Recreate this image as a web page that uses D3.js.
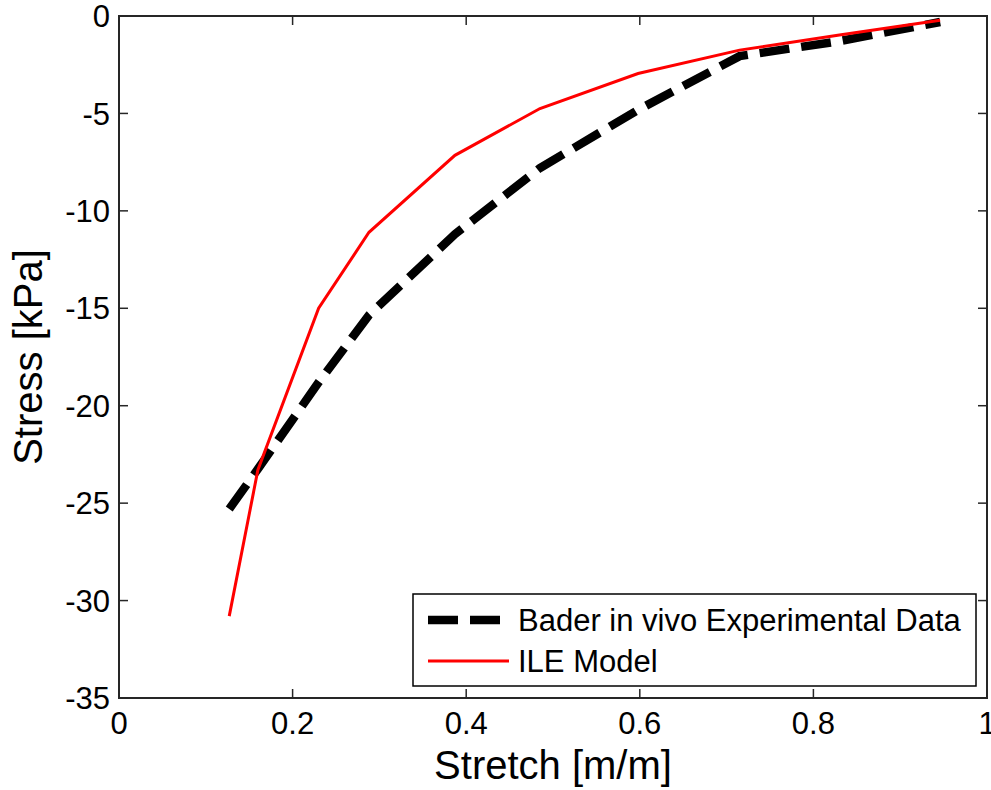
<!DOCTYPE html>
<html>
<head>
<meta charset="utf-8">
<script src="https://cdn.jsdelivr.net/npm/d3@7"></script>
<style>
  body { margin: 0; background: #fff; }
  text { font-family: "Liberation Sans", Arial, sans-serif; fill: #000; }
</style>
</head>
<body>
<svg id="chart"></svg>
<script>
// data
let stretch = [0.127, 0.16, 0.23, 0.288, 0.387, 0.485, 0.598, 0.715, 0.83, 0.946];
let bader = [-25.3, -23.25, -18.8, -15.35, -11.2, -7.8, -4.82, -2.06, -1.29, -0.31];
let ile = [-30.8, -23.3, -15.0, -11.1, -7.15, -4.75, -2.95, -1.75, -0.98, -0.22];
let xTicks = [0, 0.2, 0.4, 0.6, 0.8, 1];
let yTicks = [0, -5, -10, -15, -20, -25, -30, -35];
let seriesNames = ["Bader in vivo Experimental Data", "ILE Model"];

let width = 991,
  height = 790;
let margin = { top: 16, right: 4, bottom: 92, left: 119 };
let plotW = width - margin.left - margin.right,
  plotH = height - margin.top - margin.bottom;

let svg = d3.select("#chart").attr("width", width).attr("height", height);

let x = d3.scaleLinear().domain([0, 1]).range([margin.left, margin.left + plotW]);
let y = d3.scaleLinear().domain([-35, 0]).range([margin.top + plotH, margin.top]);

let tickLen = 9;
let axisColor = "#262626";

// lines
let line = d3
  .line()
  .x((d) => x(d[0]))
  .y((d) => y(d[1]));

let baderData = stretch.map((s, i) => [s, bader[i]]);
let ileData = stretch.map((s, i) => [s, ile[i]]);

svg
  .append("path")
  .datum(baderData)
  .attr("fill", "none")
  .attr("stroke", "#000")
  .attr("stroke-width", 8.5)
  .attr("stroke-dasharray", "30,12")
  .attr("d", line);

svg
  .append("path")
  .datum(ileData)
  .attr("fill", "none")
  .attr("stroke", "#ff0000")
  .attr("stroke-width", 3)
  .attr("d", line);

// frame + inward ticks on all four sides
let frame = svg.append("g");
frame
  .append("rect")
  .attr("x", x(0))
  .attr("y", y(0))
  .attr("width", x(1) - x(0))
  .attr("height", y(-35) - y(0))
  .attr("fill", "none")
  .attr("stroke", axisColor)
  .attr("stroke-width", 2);

xTicks.forEach((t) => {
  frame.append("line")
    .attr("x1", x(t)).attr("x2", x(t))
    .attr("y1", y(-35)).attr("y2", y(-35) - tickLen)
    .attr("stroke", axisColor).attr("stroke-width", 1.5);
  frame.append("line")
    .attr("x1", x(t)).attr("x2", x(t))
    .attr("y1", y(0)).attr("y2", y(0) + tickLen)
    .attr("stroke", axisColor).attr("stroke-width", 1.5);
  svg.append("text")
    .attr("x", x(t))
    .attr("y", y(-35) + 36)
    .attr("text-anchor", "middle")
    .attr("font-size", "31px")
    .text(t);
});

yTicks.forEach((t) => {
  frame.append("line")
    .attr("x1", x(0)).attr("x2", x(0) + tickLen)
    .attr("y1", y(t)).attr("y2", y(t))
    .attr("stroke", axisColor).attr("stroke-width", 1.5);
  frame.append("line")
    .attr("x1", x(1)).attr("x2", x(1) - tickLen)
    .attr("y1", y(t)).attr("y2", y(t))
    .attr("stroke", axisColor).attr("stroke-width", 1.5);
  svg.append("text")
    .attr("x", x(0) - 9)
    .attr("y", y(t))
    .attr("dy", "0.36em")
    .attr("text-anchor", "end")
    .attr("font-size", "31px")
    .text(t);
});

// axis titles
svg.append("text")
  .attr("x", (x(0) + x(1)) / 2)
  .attr("y", 779)
  .attr("text-anchor", "middle")
  .attr("font-size", "40px")
  .text("Stretch [m/m]");

svg.append("text")
  .attr("transform", "translate(42," + (y(0) + y(-35)) / 2 + ") rotate(-90)")
  .attr("text-anchor", "middle")
  .attr("font-size", "40px")
  .text("Stress [kPa]");

// legend
let legend = svg.append("g");
legend.append("rect")
  .attr("x", 413).attr("y", 594)
  .attr("width", 563).attr("height", 92)
  .attr("fill", "#fff")
  .attr("stroke", "#000")
  .attr("stroke-width", 1.5);

legend.append("line")
  .attr("x1", 428).attr("x2", 509)
  .attr("y1", 620).attr("y2", 620)
  .attr("stroke", "#000").attr("stroke-width", 8.5)
  .attr("stroke-dasharray", "30,12");
legend.append("line")
  .attr("x1", 428).attr("x2", 509)
  .attr("y1", 661).attr("y2", 661)
  .attr("stroke", "#ff0000").attr("stroke-width", 3);

legend.append("text")
  .attr("x", 518).attr("y", 631)
  .attr("font-size", "31px")
  .text(seriesNames[0]);
legend.append("text")
  .attr("x", 518).attr("y", 672)
  .attr("font-size", "31px")
  .text(seriesNames[1]);
</script>
</body>
</html>
